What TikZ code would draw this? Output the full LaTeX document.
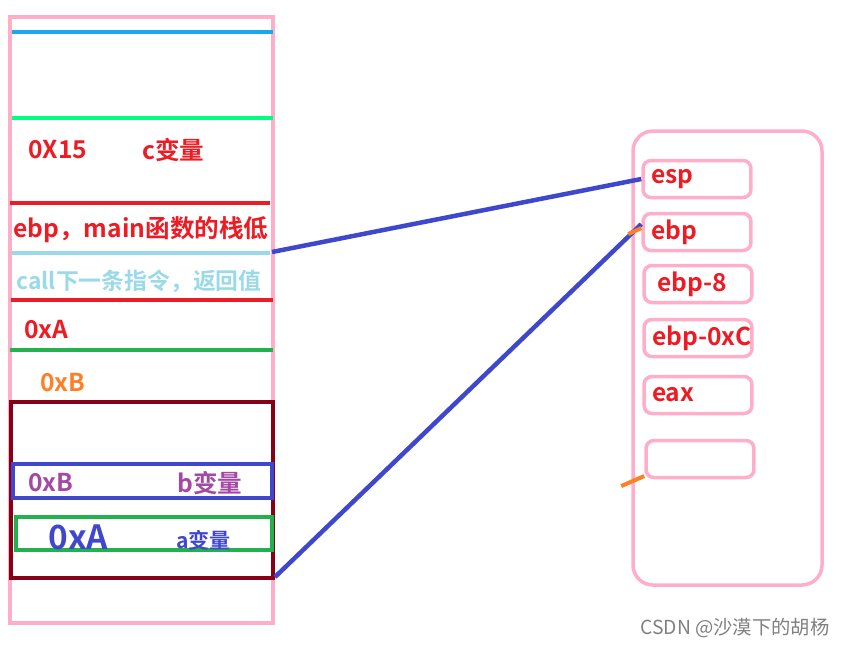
\documentclass[tikz,border=0pt]{standalone}
\usepackage{fontspec}
\setmainfont{Noto Sans CJK SC}[BoldFont={* Bold}]
\definecolor{stackPink}{HTML}{FFAEC9}
\definecolor{stackCyan}{HTML}{1AA7EC}
\definecolor{stackSpring}{HTML}{00FF80}
\definecolor{stackRed}{HTML}{ED1C24}
\definecolor{stackSky}{HTML}{99D9EA}
\definecolor{stackGreen}{HTML}{22B14C}
\definecolor{stackMaroon}{HTML}{880015}
\definecolor{stackIndigo}{HTML}{3F48CC}
\definecolor{stackOrange}{HTML}{FF7F27}
\definecolor{stackPurple}{HTML}{A349A4}
\begin{document}
\begin{tikzpicture}[
    x=0.02cm, y=-0.02cm,
    stackFrameStyle/.style={stackPink, line width=0.07cm},
    stackLineStyle/.style={line width=0.09cm},
    stackLabelStyle/.style={anchor=west, inner sep=0pt, font=\bfseries\fontsize{14}{16}\selectfont},
    regBoxStyle/.style={draw=stackPink, line width=0.07cm, rounded corners=0.16cm,
        minimum height=0.74cm, text width=1.84cm, inner xsep=0.16cm, align=left,
        text=stackRed, font=\bfseries\fontsize{14}{16}\selectfont},
    linkStyle/.style={stackIndigo, line width=0.09cm},
    stubStyle/.style={stackOrange, line width=0.08cm}
]
    \useasboundingbox (0,0) rectangle (845,647);

    % --- 栈 ---
    \draw[stackFrameStyle] (10,17) rectangle (273,623);
    \draw[stackLineStyle, stackCyan] (12,32) -- (273,32);
    \draw[stackLineStyle, stackSpring] (12,118) -- (273,118);
    \draw[stackLineStyle, stackRed] (10,203) -- (270,203);
    \draw[stackLineStyle, stackSky] (12,253) -- (270,253);
    \draw[stackLineStyle, stackRed] (11,300) -- (273,300);
    \draw[stackLineStyle, stackGreen] (10,350) -- (273,350);

    % main 的局部变量
    \draw[stackLineStyle, stackMaroon] (11,402) rectangle (273,578);
    \draw[stackLineStyle, stackIndigo] (13,464) rectangle (272,498);
    \draw[stackLineStyle, stackGreen] (16,517) rectangle (272,550);

    \coordinate (retEnd) at (272,252);
    \coordinate (frameEnd) at (275,577);

    \node[stackLabelStyle, stackRed] (cValue) at (28,150) {0X15};
    \node[stackLabelStyle, stackRed] (cName) at (142,150) {c变量};
    \node[stackLabelStyle, stackRed] (ebpMain) at (13,230) {ebp，main函数的栈低};
    \node[stackLabelStyle, stackSky, font=\bfseries\fontsize{13}{15}\selectfont]
        (callRet) at (16,281) {call下一条指令，返回值};
    \node[stackLabelStyle, stackRed] (argA) at (24,330) {0xA};
    \node[stackLabelStyle, stackOrange] (argB) at (40,383) {0xB};
    \node[stackLabelStyle, stackPurple] (bValue) at (28,483) {0xB};
    \node[stackLabelStyle, stackPurple] (bName) at (177,483) {b变量};
    \node[stackLabelStyle, stackIndigo, font=\bfseries\fontsize{19}{21}\selectfont]
        (aValue) at (48,537) {0xA};
    \node[stackLabelStyle, stackIndigo, font=\bfseries\fontsize{12}{14}\selectfont]
        (aName) at (176,540) {a变量};

    % --- 寄存器 ---
    \draw[stackFrameStyle, rounded corners=0.4cm] (633,131) rectangle (822,585);
    \node[regBoxStyle] (esp) at (697,179) {esp};
    \node[regBoxStyle] (ebp) at (697,232) {ebp};
    \node[regBoxStyle] (ebpEight) at (698,284) {\hspace{0.1cm}ebp-8};
    \node[regBoxStyle] (ebpC) at (698,338) {\mbox{ebp-0xC}};
    \node[regBoxStyle] (eax) at (698,395) {eax};
    \node[regBoxStyle] (spare) at (700,459) {};

    % 指向
    \draw[linkStyle] (retEnd) -- (esp.west);
    \draw[linkStyle] (frameEnd) -- (ebp.172);
    \draw[stubStyle] (ebp.176) -- ++(-13,6);
    \draw[stubStyle] (spare.197) -- ++(-23,10);

    \node[anchor=west, inner sep=0pt, text=gray, font=\fontsize{11}{13}\selectfont]
        (mark) at (640,628) {CSDN @沙漠下的胡杨};
\end{tikzpicture}
\end{document}
